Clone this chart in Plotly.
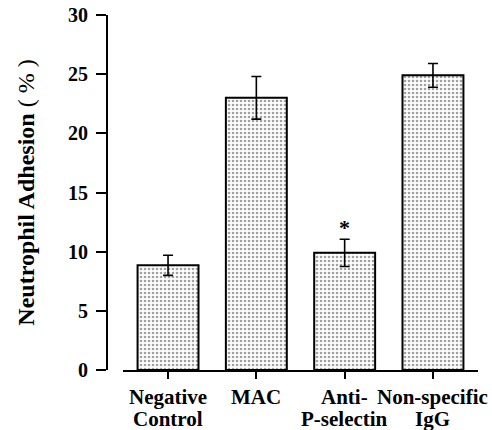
import plotly.graph_objects as go

categories = ["Negative Control", "MAC", "Anti-P-selectin", "Non-specific IgG"]
label_line1 = ["Negative", "MAC", "Anti-", "Non-specific"]
label_line2 = ["Control", "", "P-selectin", "IgG"]
values = [8.85, 23.0, 9.9, 24.9]
errors = [0.85, 1.8, 1.15, 1.0]
significant = [False, False, True, False]
y_ticks = [0, 5, 10, 15, 20, 25, 30]

FONT = "Liberation Serif"

fig = go.Figure()
fig.add_trace(go.Bar(
    x=categories,
    y=values,
    width=0.69,
    marker=dict(
        color="white",
        line=dict(color="black", width=2),
        pattern=dict(shape=".", fgcolor="#444444", bgcolor="white", size=4, solidity=0.35),
    ),
    error_y=dict(type="data", array=errors, visible=True, color="black", thickness=1.6, width=5),
    showlegend=False,
))

for cat, v, e, s in zip(categories, values, errors, significant):
    if s:
        fig.add_annotation(x=cat, y=v + e, text="<b>*</b>", showarrow=False,
                           yanchor="bottom", yshift=-3,
                           font=dict(family=FONT, size=22, color="black"))

# two-line category labels under the x axis
for cat, l1, l2 in zip(categories, label_line1, label_line2):
    for txt, shift in ((l1, -13), (l2, -35)):
        if txt:
            fig.add_annotation(x=cat, xref="x", y=0, yref="paper", text="<b>%s</b>" % txt,
                               showarrow=False, yanchor="top", xanchor="center", yshift=shift,
                               font=dict(family=FONT, size=21, color="black"))

fig.update_layout(
    width=492, height=430,
    margin=dict(l=107, r=14, t=15, b=60, autoexpand=False),
    paper_bgcolor="white", plot_bgcolor="white",
    font=dict(family=FONT, color="black"),
)
fig.update_xaxes(
    domain=[16 / 371, 1],
    range=[-0.51, 3.51],
    automargin=False,
    showline=True, linecolor="black", linewidth=2,
    ticks="outside", ticklen=7, tickwidth=2, tickcolor="black",
    showticklabels=False,
    showgrid=False, zeroline=False,
)
fig.update_yaxes(
    anchor="free", position=0,
    range=[0, 30],
    automargin=False,
    tickvals=y_ticks,
    ticktext=["<b>%d</b>" % t for t in y_ticks],
    showline=True, linecolor="black", linewidth=2,
    ticks="outside", ticklen=10, tickwidth=2, tickcolor="black",
    ticklabelstandoff=4,
    tickfont=dict(family=FONT, size=20, color="black"),
    showgrid=False, zeroline=False,
    title=dict(text="<b>Neutrophil Adhesion</b> ( % )",
               font=dict(family=FONT, size=24, color="black"), standoff=26),
)

fig.write_html("out.html")
